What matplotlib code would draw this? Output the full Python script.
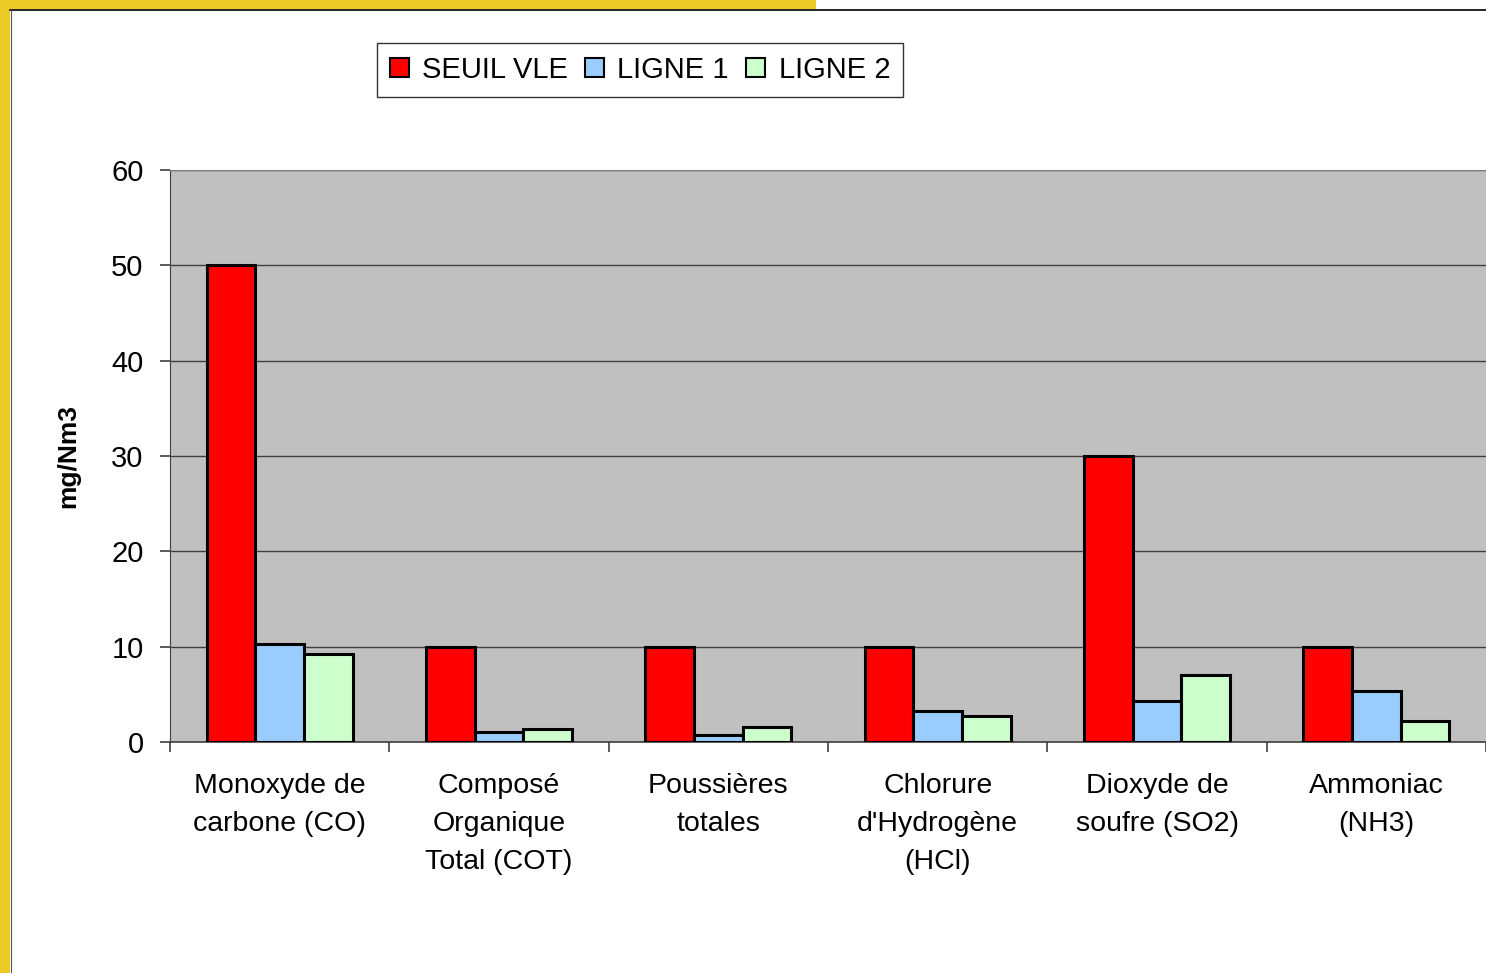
import matplotlib
matplotlib.use('Agg')
import matplotlib.pyplot as plt
import numpy as np
from matplotlib.patches import Rectangle
from matplotlib.lines import Line2D

# données
categories = ['Monoxyde de\ncarbone (CO)', 'Composé\nOrganique\nTotal (COT)',
              'Poussières\ntotales', 'Chlorure\nd\'Hydrogène\n(HCl)',
              'Dioxyde de\nsoufre (SO2)', 'Ammoniac\n(NH3)']
seuil_vle = [50, 10, 10, 10, 30, 10]
ligne_1 = [10.3, 1.0, 0.7, 3.2, 4.3, 5.4]
ligne_2 = [9.2, 1.4, 1.6, 2.7, 7.0, 2.2]
series_names = ['SEUIL VLE', 'LIGNE 1', 'LIGNE 2']
colors = ['#FF0000', '#99CCFF', '#CCFFCC']

plt.rcParams['font.family'] = ['Liberation Sans', 'DejaVu Sans']

fig = plt.figure(figsize=(14.86, 9.73), dpi=100)
ax = fig.add_axes([170/1486, 1 - 742/973, 1 - 170/1486, (742-170)/973])

x = np.arange(len(categories))
w = 0.222
for i, vals in enumerate([seuil_vle, ligne_1, ligne_2]):
    ax.bar(x + (i - 1) * w, vals, w, color=colors[i], edgecolor='black',
           linewidth=2.2, label=series_names[i], zorder=3)

ax.set_facecolor('#C0C0C0')
ax.set_xlim(-0.5, len(categories) - 0.5)
ax.set_ylim(0, 60)
ax.set_yticks(range(0, 61, 10))
ax.yaxis.grid(True, color='#404040', linewidth=1.0, zorder=1)
ax.set_axisbelow(True)

ax.set_xticks(x)
ax.set_xticklabels(categories, fontsize=20.5, linespacing=1.6)
ax.set_xticks(np.arange(-0.5, len(categories), 1), minor=True)
ax.tick_params(axis='x', which='major', length=0, pad=22)
ax.tick_params(axis='x', which='minor', length=7, color='#404040', width=1.2)
ax.tick_params(axis='y', labelsize=21, length=7, color='#404040', width=1.2, pad=12)
for t in ax.get_xticklabels():
    t.set_verticalalignment('top')

ax.spines['left'].set_color('#404040')
ax.spines['top'].set_color('#808080')
ax.spines['right'].set_visible(False)
ax.spines['bottom'].set_color('#404040')
ax.spines['bottom'].set_linewidth(1.2)

ax.set_ylabel('mg/Nm3', fontsize=19, fontweight='bold', labelpad=22)

handles = [Rectangle((0, 0), 1, 1, facecolor=c, edgecolor='black', linewidth=1.5) for c in colors]
leg = fig.legend(handles, series_names, loc='center', bbox_to_anchor=(640/1486, 1 - 70/973),
                 ncol=3, fontsize=21, frameon=True, fancybox=False, edgecolor='black',
                 handlelength=0.65, handleheight=0.65, handletextpad=0.45, columnspacing=0.6,
                 borderpad=0.45, borderaxespad=0)
leg.get_frame().set_linewidth(1.0)

# cadre jaune et lignes du bord
fig.patches.append(Rectangle((0, 0), 10/1486, 1, transform=fig.transFigure,
                             facecolor='#EDCB26', edgecolor='none', zorder=0))
fig.patches.append(Rectangle((0, 1 - 9/973), 816/1486, 9/973, transform=fig.transFigure,
                             facecolor='#EDCB26', edgecolor='none', zorder=0))
fig.lines.append(Line2D([10/1486, 1], [1 - 9.5/973, 1 - 9.5/973], transform=fig.transFigure,
                        color='black', linewidth=1.2))
fig.lines.append(Line2D([11/1486, 11/1486], [0, 1 - 9.5/973], transform=fig.transFigure,
                        color='#555555', linewidth=0.8))

fig.savefig('out.png', dpi=100)
